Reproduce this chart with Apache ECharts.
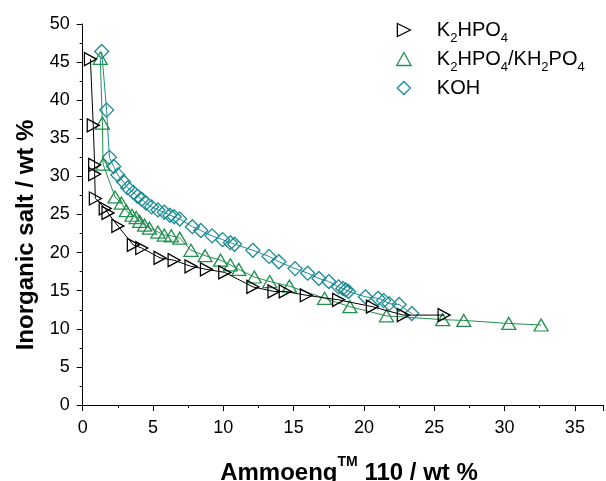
<!DOCTYPE html>
<html>
<head>
<meta charset="utf-8">
<script src="https://cdn.jsdelivr.net/npm/echarts@6/dist/echarts.min.js"></script>
<style>html,body{margin:0;padding:0;background:#fff}#c{width:606px;height:481px}</style>
</head>
<body>
<div id="c"></div>
<script>
var seriesNames = ['K2HPO4', 'K2HPO4/KH2PO4', 'KOH'];
var xTicks = [0, 5, 10, 15, 20, 25, 30, 35];
var yTicks = [0, 5, 10, 15, 20, 25, 30, 35, 40, 45, 50];

var k2hpo4 = [[0.55,45.4],[0.75,36.7],[0.85,31.5],[0.85,30.3],[0.9,27.1],[1.6,25.8],[1.8,25.2],[2.5,23.5],[3.6,21.0],[4.2,20.6],[5.5,19.3],[6.5,19.0],[7.7,18.2],[8.8,17.8],[10.1,17.4],[12.1,15.5],[13.6,14.9],[14.4,14.9],[15.9,14.4],[18.2,13.8],[20.6,12.9],[22.8,11.8],[25.7,11.8]];

var mixed = [[1.25,45.5],[1.4,37.0],[1.45,31.6],[2.3,27.3],[2.75,26.5],[3.1,25.5],[3.5,24.9],[3.8,24.6],[4.05,24.1],[4.4,23.6],[4.75,23.2],[5.35,22.7],[5.8,22.3],[6.3,22.2],[6.9,21.9],[7.7,20.3],[8.7,19.6],[9.8,19.0],[10.5,18.4],[11.1,17.8],[12.2,16.8],[13.3,16.2],[14.7,15.6],[17.2,14.0],[19.0,12.9],[21.6,11.7],[25.6,11.2],[27.1,11.1],[30.3,10.7],[32.6,10.5]];

var koh = [[1.35,46.4],[1.7,38.7],[1.9,32.5],[2.2,31.3],[2.5,30.2],[2.9,29.3],[3.2,28.5],[3.6,27.9],[3.9,27.4],[4.2,27.0],[4.5,26.5],[4.9,26.0],[5.35,25.6],[5.8,25.3],[6.2,24.9],[6.5,24.7],[6.9,24.4],[7.8,23.4],[8.4,22.9],[9.2,22.2],[9.95,21.7],[10.5,21.3],[10.8,21.1],[12.1,20.3],[13.25,19.5],[13.95,18.8],[15.1,17.9],[16.0,17.3],[16.8,16.6],[17.5,16.2],[18.2,15.5],[18.5,15.3],[18.7,15.1],[18.9,14.9],[20.1,14.2],[21.0,14.0],[21.4,13.7],[21.8,13.3],[22.5,13.2],[23.4,12.0]];

var colors = ['#000000', '#22904f', '#1a8c94'];
var symRight = 'path://M0,0 L10,5 L0,10 Z';
var symUp = 'path://M5,0 L10,9 L0,9 Z';
var symDiamond = 'path://M5,0 L10,5 L5,10 L0,5 Z';
var symbols = [symRight, symUp, symDiamond];
var symSizes = [[12,13],[14,12],[14,14]];
var datasets = [k2hpo4, mixed, koh];

var richLabels = {
  'K2HPO4': '{n|K}{s|2}{n|HPO}{s|4}',
  'K2HPO4/KH2PO4': '{n|K}{s|2}{n|HPO}{s|4}{n|/KH}{s|2}{n|PO}{s|4}',
  'KOH': '{n|KOH}'
};

var font = 'Liberation Sans, Arial, sans-serif';

var chart = echarts.init(document.getElementById('c'), null, {renderer: 'canvas'});

var series = seriesNames.map(function (name, i) {
  return {
    name: name,
    type: 'line',
    data: datasets[i],
    symbol: symbols[i],
    symbolSize: symSizes[i],
    symbolKeepAspect: false,
    showAllSymbol: true,
    smooth: false,
    lineStyle: {color: colors[i], width: 1},
    itemStyle: {color: 'transparent', borderColor: colors[i], borderWidth: 1.3},
    emphasis: {disabled: true},
    animation: false,
    z: 3 - i
  };
});

var option = {
  animation: false,
  grid: {left: 82.7, right: 0, top: 24, bottom: 76, containLabel: false},
  xAxis: {
    type: 'value', min: 0, max: 37, interval: 5,
    axisLine: {show: true, lineStyle: {color: '#000', width: 1}},
    axisTick: {show: true, length: 6, inside: false, lineStyle: {color: '#000'}},
    minorTick: {show: true, splitNumber: 2, length: 3, lineStyle: {color: '#000'}},
    splitLine: {show: false},
    axisLabel: {
      color: '#000', fontSize: 18, fontFamily: font, margin: 14,
      formatter: function (v) { return xTicks.indexOf(v) >= 0 ? String(v) : ''; }
    }
  },
  yAxis: {
    type: 'value', min: 0, max: 50, interval: 5,
    axisLine: {show: true, lineStyle: {color: '#000', width: 1}},
    axisTick: {show: true, length: 6, inside: false, lineStyle: {color: '#000'}},
    minorTick: {show: true, splitNumber: 2, length: 3, lineStyle: {color: '#000'}},
    splitLine: {show: false},
    axisLabel: {
      color: '#000', fontSize: 18, fontFamily: font, margin: 13,
      formatter: function (v) { return yTicks.indexOf(v) >= 0 ? String(v) : ''; }
    }
  },
  legend: {
    orient: 'vertical', left: 396, top: 20, padding: 0,
    itemWidth: 56, itemHeight: 13, itemGap: 4,
    symbolKeepAspect: true,
    selectedMode: false,
    data: seriesNames.map(function (name, i) {
      return {
        name: name,
        icon: symbols[i],
        itemStyle: {color: 'transparent', borderColor: colors[i], borderWidth: 1.3}
      };
    }),
    formatter: function (name) { return richLabels[name]; },
    textStyle: {
      color: '#000', fontFamily: font,
      rich: {
        n: {fontSize: 20, fontFamily: font, color: '#000', lineHeight: 22, verticalAlign: 'middle'},
        s: {fontSize: 13, fontFamily: font, color: '#000', lineHeight: 13, verticalAlign: 'bottom', padding: [0, 0, -4, 0]}
      }
    }
  },
  graphic: [
    {
      type: 'text', x: 26, y: 235, rotation: Math.PI / 2,
      style: {
        text: 'Inorganic salt / wt %', fill: '#000',
        font: 'bold 24px ' + font, align: 'center', verticalAlign: 'middle'
      }
    },
    {
      type: 'text', x: 349, y: 470,
      style: {
        text: '{n|Ammoeng}{t|TM}{n| 110 / wt %}', fill: '#000', align: 'center', verticalAlign: 'middle',
        rich: {
          n: {fontSize: 24, fontWeight: 'bold', fontFamily: font, fill: '#000', lineHeight: 30, verticalAlign: 'bottom'},
          t: {fontSize: 14, fontWeight: 'bold', fontFamily: font, fill: '#000', lineHeight: 14, verticalAlign: 'top'}
        }
      }
    }
  ],
  series: series
};
chart.setOption(option);
</script>
</body>
</html>
